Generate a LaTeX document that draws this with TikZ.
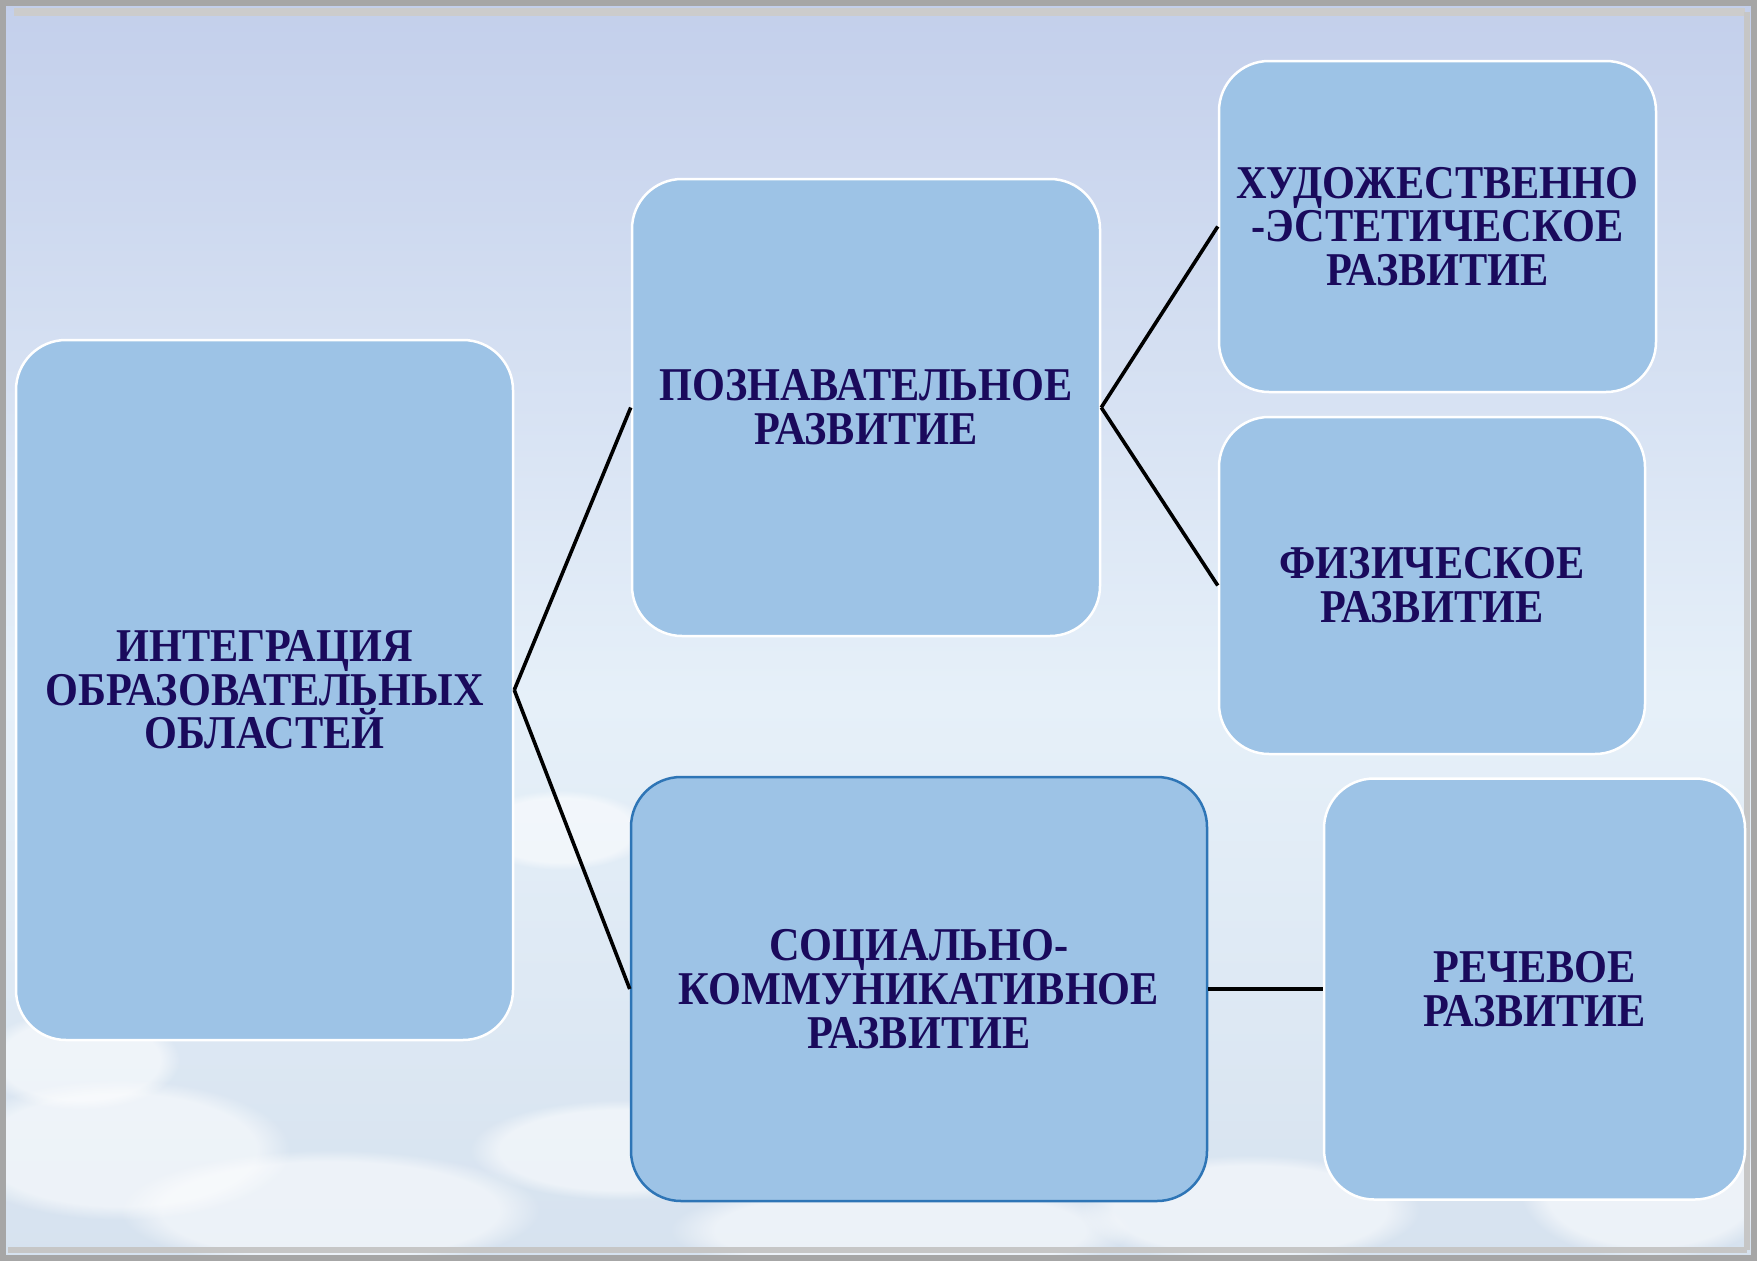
\documentclass[tikz,border=0pt]{standalone}
\usepackage{fontspec}
\setmainfont[FakeStretch=0.9]{Liberation Serif}
\usetikzlibrary{fadings}
\definecolor{boxfill}{HTML}{9DC3E6}
\definecolor{txt}{HTML}{1A0A5C}
\definecolor{ebord}{HTML}{2E75B6}
\definecolor{skytop}{HTML}{C3CFEB}
\definecolor{skymid}{HTML}{E6F0F9}
\definecolor{skybot}{HTML}{D6E2EF}
\tikzset{
  area/.style={rectangle, rounded corners=50pt, fill=boxfill, draw=white, line width=2.5pt,
    inner sep=0pt, align=center, text=txt,
    font=\bfseries\fontsize{47}{43.7}\selectfont},
  link/.style={draw=black, line width=3.6pt},
  cloud/.style={fill=white, opacity=0.55, path fading=circle with fuzzy edge 20 percent}
}
\begin{document}
\begin{tikzpicture}[x=1pt,y=-1pt]
\useasboundingbox (0,0) rectangle (1757,1261);
% background sky
\shade[top color=skytop, bottom color=skymid] (0,0) rectangle (1757,700);
\shade[top color=skymid, bottom color=skybot] (0,700) rectangle (1757,1261);
% soft clouds
\foreach \cx/\cy/\rx/\ry in {120/1150/170/70, 330/1210/210/60, 620/1150/150/50, 900/1230/230/50, 1250/1210/170/55, 1650/1190/130/70, 80/1060/100/50, 560/830/90/40}
  \fill[cloud] (\cx,\cy) ellipse [x radius=\rx, y radius=\ry];
% frame
\draw[gray!70, line width=6pt] (3,3) rectangle (1754,1258);
\draw[gray!40, line width=8pt] (14,12) -- (1745,12);
\draw[gray!45, line width=6pt] (1747,12) -- (1747,1250);
\draw[gray!45, line width=6pt] (8,1250) -- (1747,1250);

% nodes
\node[area, minimum width=497pt, minimum height=700pt] (A) at (264.5,690)
  {ИНТЕГРАЦИЯ\\ОБРАЗОВАТЕЛЬНЫХ\\ОБЛАСТЕЙ};
\node[area, minimum width=468pt, minimum height=457pt] (B) at (866,407.5)
  {ПОЗНАВАТЕЛЬНОЕ\\РАЗВИТИЕ};
\node[area, minimum width=437pt, minimum height=331pt] (C) at (1437.5,226.5)
  {ХУДОЖЕСТВЕННО\\-ЭСТЕТИЧЕСКОЕ\\РАЗВИТИЕ};
\node[area, minimum width=426pt, minimum height=337pt] (D) at (1432,585.5)
  {ФИЗИЧЕСКОЕ\\РАЗВИТИЕ};
\node[area, draw=ebord, minimum width=576pt, minimum height=424pt] (E) at (919,989)
  {СОЦИАЛЬНО-\\КОММУНИКАТИВНОЕ\\РАЗВИТИЕ};
\node[area, minimum width=421pt, minimum height=421pt] (F) at (1534.5,989)
  {РЕЧЕВОЕ\\РАЗВИТИЕ};

% connectors
\draw[link] (A.east) -- (B.west);
\draw[link] (A.east) -- (E.west);
\draw[link] (B.east) -- (C.west);
\draw[link] (B.east) -- (D.west);
\draw[link, line width=4.5pt] (E.east) -- (F.west);
\end{tikzpicture}
\end{document}
